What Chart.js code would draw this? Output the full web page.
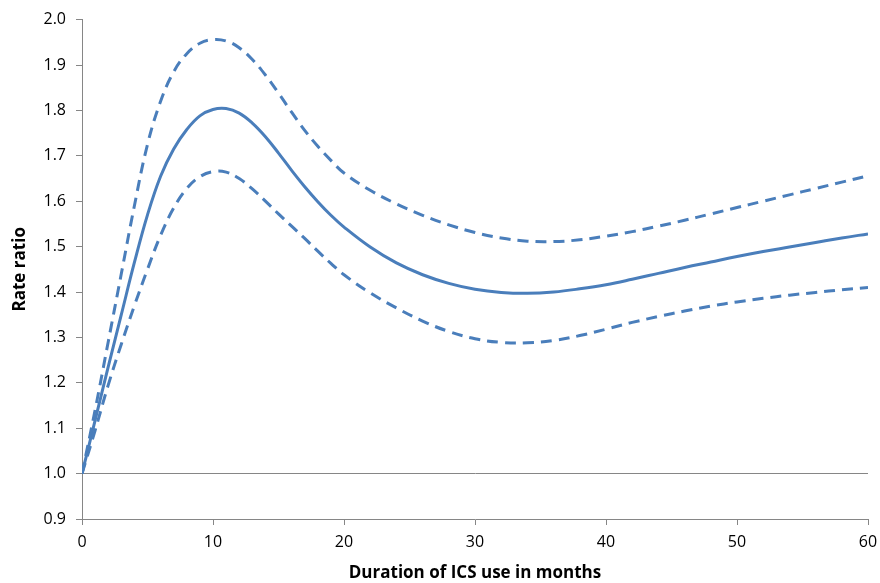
<!DOCTYPE html>
<html>
<head>
<meta charset="utf-8">
<script src="https://cdn.jsdelivr.net/npm/chart.js@4"></script>
<style>
  html, body { margin: 0; padding: 0; background: #ffffff; }
  canvas { display: block; }
</style>
</head>
<body>
<canvas id="c" width="880" height="583"></canvas>
<script>
const months = [0,1,2,3,4,5,6,7,8,9,10,11,12,13,14,15,16,17,18,19,20,22,24,26,28,30,32,34,36,38,40,42,44,46,48,50,52,54,56,58,60];
const rateRatio = [1.000,1.117,1.235,1.350,1.465,1.570,1.655,1.715,1.758,1.788,1.802,1.804,1.794,1.772,1.742,1.706,1.668,1.632,1.599,1.569,1.543,
  1.499,1.464,1.438,1.419,1.406,1.399,1.397,1.400,1.407,1.416,1.428,1.441,1.454,1.466,1.478,1.489,1.499,1.509,1.519,1.528];
const upperCI = [1.000,1.140,1.290,1.440,1.590,1.725,1.820,1.885,1.925,1.948,1.956,1.953,1.938,1.912,1.878,1.838,1.796,1.756,1.721,1.690,1.662,
  1.624,1.594,1.569,1.548,1.531,1.519,1.512,1.511,1.515,1.523,1.533,1.545,1.558,1.572,1.586,1.600,1.614,1.628,1.642,1.656];
const lowerCI = [1.000,1.095,1.195,1.285,1.370,1.450,1.525,1.585,1.628,1.654,1.665,1.664,1.650,1.627,1.600,1.572,1.545,1.518,1.490,1.463,1.438,
  1.398,1.365,1.336,1.313,1.297,1.289,1.288,1.293,1.304,1.318,1.333,1.346,1.358,1.369,1.378,1.386,1.393,1.399,1.405,1.410];
const xTitle = 'Duration of ICS use in months';
const yTitle = 'Rate ratio';

const blue = '#4a7ebb';
const axisGray = '#868686';
const toPts = arr => months.map((m, i) => ({ x: m, y: arr[i] }));

const bg = {
  id: 'bg',
  beforeDraw(chart) {
    const c = chart.ctx;
    c.save(); c.fillStyle = '#ffffff'; c.fillRect(0, 0, chart.width, chart.height); c.restore();
  }
};

const lineDefaults = { borderColor: blue, borderWidth: 3, pointRadius: 0, tension: 0.4, fill: false };

new Chart(document.getElementById('c'), {
  type: 'line',
  data: {
    datasets: [
      Object.assign({ label: 'Upper', data: toPts(upperCI), borderDash: [11, 7] }, lineDefaults),
      Object.assign({ label: 'Rate ratio', data: toPts(rateRatio) }, lineDefaults),
      Object.assign({ label: 'Lower', data: toPts(lowerCI), borderDash: [11, 7] }, lineDefaults)
    ]
  },
  options: {
    responsive: false,
    devicePixelRatio: 1,
    animation: false,
    layout: { padding: { top: 19, right: 12, left: 0, bottom: 0 } },
    plugins: { legend: { display: false }, tooltip: { enabled: false } },
    scales: {
      x: {
        type: 'linear', min: 0, max: 60,
        ticks: { stepSize: 10, color: '#000', font: { family: 'Open Sans', size: 16 }, padding: 8, maxRotation: 0 },
        grid: { drawOnChartArea: false, tickLength: 6, color: axisGray, tickColor: axisGray },
        border: { color: axisGray, width: 1 },
        title: { display: true, text: xTitle, color: '#000', font: { family: 'Open Sans', size: 17, weight: 'bold' }, padding: { top: 4, bottom: 0 } },
        afterFit(scale) { scale.height = 64; scale.paddingRight = 0; scale.paddingLeft = 0; }
      },
      y: {
        min: 0.9, max: 2.0,
        ticks: { stepSize: 0.1, color: '#000', font: { family: 'Open Sans', size: 16 }, padding: 10, callback: v => v.toFixed(1) },
        grid: {
          tickLength: 6,
          color: ctx => (ctx.tick && Math.abs(ctx.tick.value - 1.0) < 1e-6) ? axisGray : 'rgba(0,0,0,0)',
          tickColor: axisGray
        },
        border: { color: axisGray, width: 1 },
        title: { display: true, text: yTitle, color: '#000', font: { family: 'Open Sans', size: 17, weight: 'bold' }, padding: { top: 10, bottom: 0 } },
        afterFit(scale) { scale.width = 82; }
      }
    }
  },
  plugins: [bg]
});
</script>
</body>
</html>
